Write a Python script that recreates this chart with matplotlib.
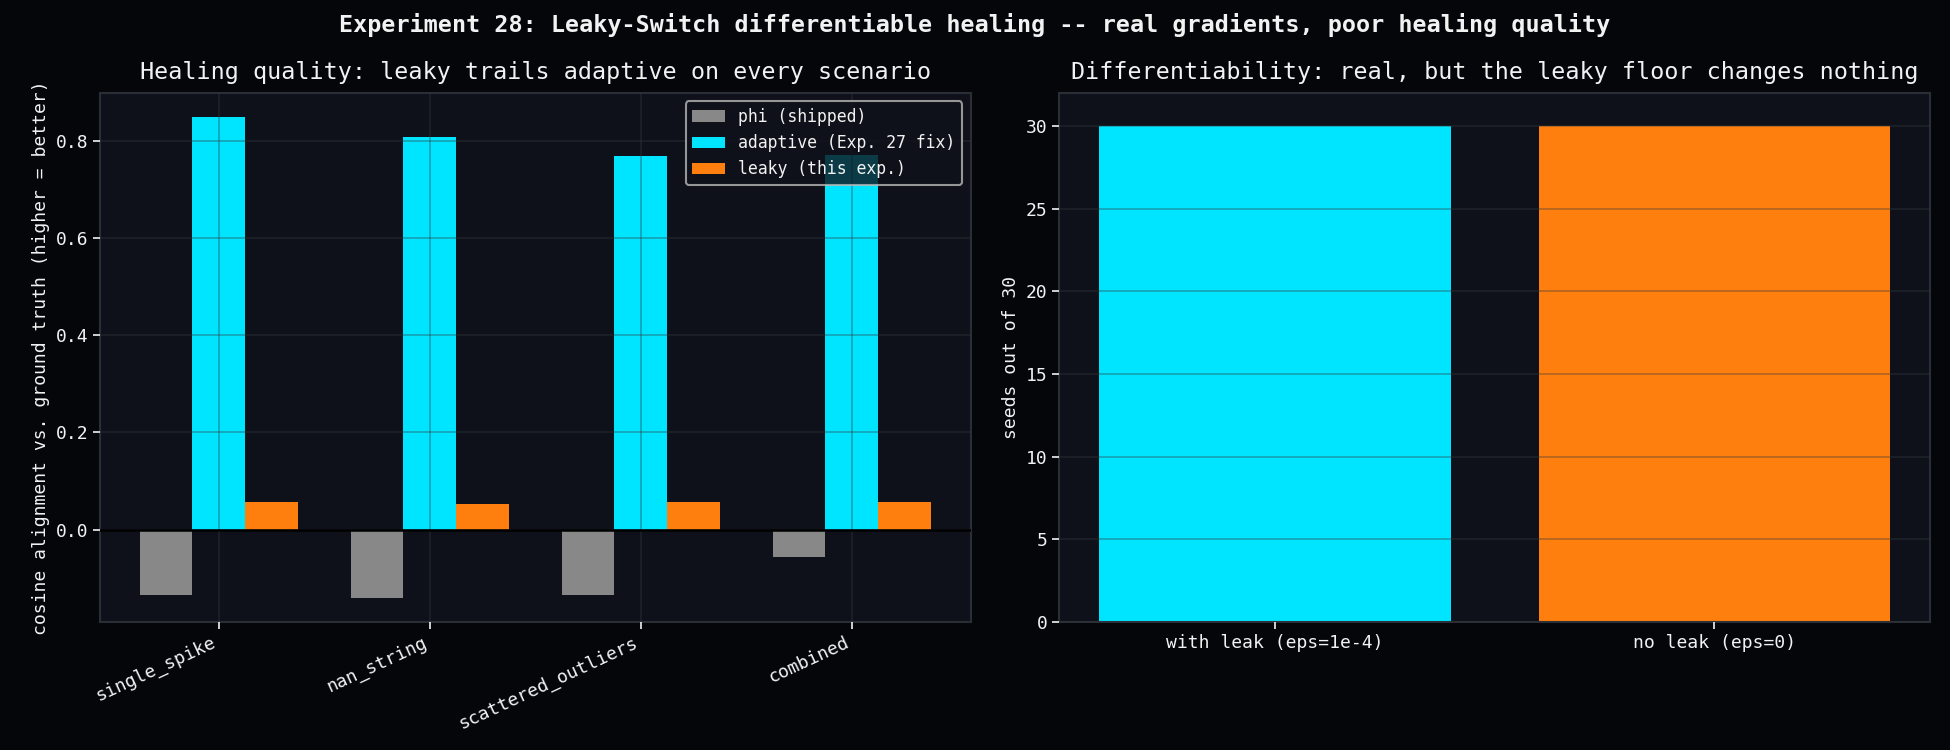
import numpy as np
import matplotlib
matplotlib.use("Agg")
import matplotlib.pyplot as plt

plt.rcParams['font.family'] = ['DejaVu Sans Mono', 'DejaVu Sans']

# healing quality per scenario
scenarios = ['single_spike', 'nan_string', 'scattered_outliers', 'combined']
phi_vals = [-0.135, -0.140, -0.135, -0.057]
adaptive_vals = [0.849, 0.808, 0.769, 0.771]
leaky_vals = [0.056, 0.052, 0.056, 0.056]

# differentiability check
leak_labels = ['with leak (eps=1e-4)', 'no leak (eps=0)']
seeds_ok = [30, 30]

BG = '#04060a'
FACE = '#0e1119'
SPINE = '#2a2e36'
TXT = '#f2f2f2'
C_PHI = '#888888'
C_ADA = '#00e5ff'
C_LEAK = '#ff7f0e'

fig, (ax1, ax2) = plt.subplots(1, 2, figsize=(19.5, 7.5), dpi=100)
fig.patch.set_facecolor(BG)
fig.subplots_adjust(left=0.0513, right=0.9897, top=0.876, bottom=0.171, wspace=0.102)

for ax in (ax1, ax2):
    ax.set_facecolor(FACE)
    for s in ax.spines.values():
        s.set_color(SPINE)
        s.set_linewidth(1.5)
    ax.tick_params(colors=TXT, labelsize=13, length=5, width=1.2)
    ax.set_axisbelow(False)

x = np.arange(len(scenarios))
w = 0.25
ax1.bar(x - w, phi_vals, w, color=C_PHI, label='phi (shipped)', zorder=2)
ax1.bar(x, adaptive_vals, w, color=C_ADA, label='adaptive (Exp. 27 fix)', zorder=2)
ax1.bar(x + w, leaky_vals, w, color=C_LEAK, label='leaky (this exp.)', zorder=2)
ax1.axhline(0, color='black', lw=1.8, zorder=3)
ax1.grid(True, color='#35393f', alpha=0.4, lw=1.2, zorder=4)
ax1.set_xticks(x)
ax1.set_xticklabels(scenarios, rotation=25, ha='right')
ax1.set_ylabel('cosine alignment vs. ground truth (higher = better)', color=TXT, fontsize=13)
ax1.set_title('Healing quality: leaky trails adaptive on every scenario', color=TXT,
              fontsize=16.8, pad=10)
leg = ax1.legend(loc='upper right', fontsize=11.9, facecolor=FACE, edgecolor='#b8b8b8',
                 framealpha=0.8, labelcolor=TXT)
leg.get_frame().set_linewidth(1.5)
leg.set_zorder(5)

xr = np.arange(len(leak_labels))
ax2.bar(xr, seeds_ok, 0.8, color=[C_ADA, C_LEAK], zorder=2)
ax2.set_ylim(0, 32)
ax2.grid(True, axis='y', color='#35393f', alpha=0.4, lw=1.2, zorder=4)
ax2.set_xticks(xr)
ax2.set_xticklabels(leak_labels)
ax2.set_ylabel('seeds out of 30', color=TXT, fontsize=13)
ax2.set_title('Differentiability: real, but the leaky floor changes nothing', color=TXT,
              fontsize=16.8, pad=10)

fig.suptitle('Experiment 28: Leaky-Switch differentiable healing -- real gradients, poor healing quality',
             color=TXT, fontsize=16.8, fontweight='bold', y=0.967, va='center')

fig.savefig('out.png', facecolor=BG)
